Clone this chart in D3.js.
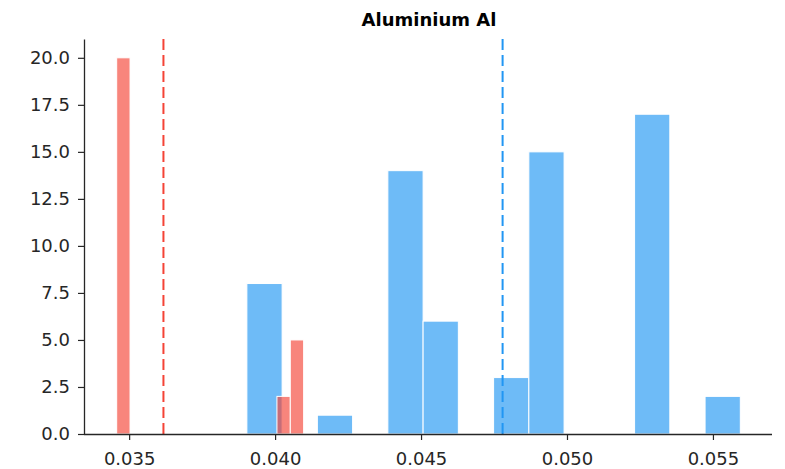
<!DOCTYPE html>
<html>
<head>
<meta charset="utf-8">
<script src="https://cdn.jsdelivr.net/npm/d3@7"></script>
<style>
  body { margin: 0; background: #fff; }
  text { font-family: "DejaVu Sans", sans-serif; }
</style>
</head>
<body>
<div id="output"></div>
<script>
// histogram bins (14 equal bins per group)
var redRange = [0.034573, 0.040978];
var redCounts = [20, 0, 0, 0, 0, 0, 0, 0, 0, 0, 0, 0, 2, 5];
var redMean = 0.036175;

var blueRange = [0.039033, 0.055938];
var blueCounts = [8, 0, 1, 0, 14, 6, 0, 3, 15, 0, 0, 17, 0, 2];
var blueMean = 0.047794;

var xTicks = [0.035, 0.040, 0.045, 0.050, 0.055];
var yTicks = [0, 2.5, 5, 7.5, 10, 12.5, 15, 17.5, 20];
var title = "Aluminium Al";

var width = 785, height = 469;
var m = { left: 84, right: 772, top: 39, bottom: 434 };

var svg = d3.select("#output").append("svg")
  .attr("width", width)
  .attr("height", height);

var lo = Math.min(redRange[0], blueRange[0]);
var hi = Math.max(redRange[1], blueRange[1]);
var pad = (hi - lo) * 0.05;

var x = d3.scaleLinear().domain([lo - pad, hi + pad]).range([m.left + 1.5, m.right - 0.5]);
var yMax = d3.max(redCounts.concat(blueCounts)) * 1.05;
var y = d3.scaleLinear().domain([0, yMax]).range([m.bottom, m.top]);

function toBins(range, counts) {
  var w = (range[1] - range[0]) / counts.length;
  return counts.map(function(c, i) {
    return { x0: range[0] + i * w, x1: range[0] + (i + 1) * w, n: c };
  }).filter(function(d) { return d.n > 0; });
}

function drawHist(bins, color) {
  svg.append("g").selectAll("rect")
    .data(bins)
    .enter().append("rect")
    .attr("x", function(d) { return x(d.x0); })
    .attr("y", function(d) { return y(d.n); })
    .attr("width", function(d) { return x(d.x1) - x(d.x0); })
    .attr("height", function(d) { return y(0) - y(d.n); })
    .style("fill", color)
    .style("fill-opacity", 0.65)
    .style("stroke", "#fff")
    .style("stroke-width", 1);
}

drawHist(toBins(blueRange, blueCounts), "#2196F3");
drawHist(toBins(redRange, redCounts), "#F44336");

// mean lines
[[redMean, "#F44336"], [blueMean, "#2196F3"]].forEach(function(d) {
  svg.append("line")
    .attr("x1", x(d[0])).attr("x2", x(d[0]))
    .attr("y1", m.top).attr("y2", m.bottom)
    .style("stroke", d[1])
    .style("stroke-width", 2)
    .style("stroke-dasharray", "11,5");
});

var xAxis = svg.append("g")
  .attr("transform", "translate(0," + m.bottom + ")")
  .call(d3.axisBottom(x).tickValues(xTicks).tickFormat(d3.format(".3f"))
    .tickSize(6).tickPadding(12).tickSizeOuter(0));
xAxis.select(".domain").attr("d", "M" + m.left + ",0.5H" + m.right);

var yAxis = svg.append("g")
  .attr("transform", "translate(" + m.left + ",0)")
  .call(d3.axisLeft(y).tickValues(yTicks).tickFormat(d3.format(".1f"))
    .tickSize(6).tickPadding(8).tickSizeOuter(0));

[xAxis, yAxis].forEach(function(a) {
  a.selectAll("text").style("font-size", "18px").style("fill", "#262626");
  a.selectAll("line").style("stroke", "#262626").style("stroke-width", 1.2);
  a.select(".domain").style("stroke", "#262626").style("stroke-width", 1.3);
});

svg.append("text")
  .attr("x", (m.left + m.right) / 2 + 1)
  .attr("y", 26)
  .attr("text-anchor", "middle")
  .style("font-weight", "bold")
  .style("font-size", "18px")
  .text(title);
</script>
</body>
</html>
